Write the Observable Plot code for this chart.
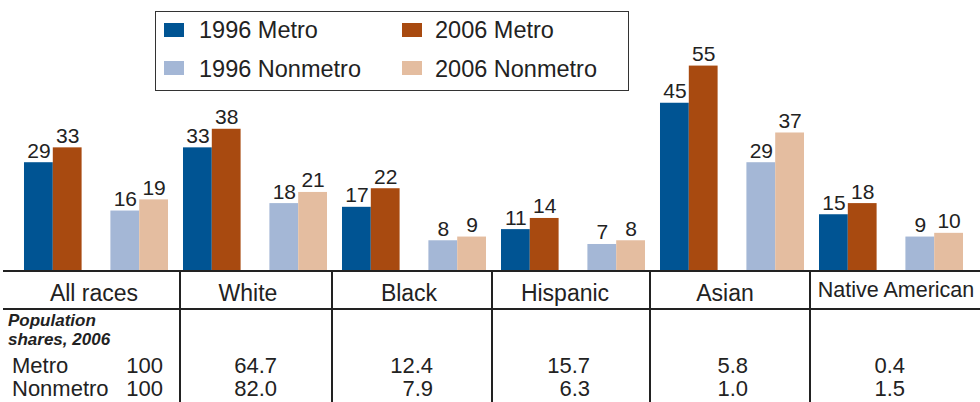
<!DOCTYPE html>
<html><head><meta charset="utf-8">
<script src="https://cdn.jsdelivr.net/npm/d3@7"></script>
<script src="https://cdn.jsdelivr.net/npm/@observablehq/plot@0.6"></script>
<style>
body{margin:0;background:#fff;font-family:"Liberation Sans",Arial,Helvetica,sans-serif;color:#222}
#wrap{position:relative;width:980px;height:402px;overflow:hidden}
#chart svg{display:block}
.abs{position:absolute;white-space:nowrap;line-height:1}
.hl{position:absolute;background:#222;height:2px}
.vl{position:absolute;background:#222;width:2px}
#legend{position:absolute;left:155px;top:11px;width:472px;height:78px;border:1.5px solid #333;background:#fff}
.sw{position:absolute;width:20px;height:14px}
</style></head>
<body>
<div id="wrap"><div id="chart"></div><div id="legend"></div><div id="table"></div></div>
<script>
// ---- data ----
const races = ["All races", "White", "Black", "Hispanic", "Asian", "Native American"];
const seriesNames = ["1996 Metro", "2006 Metro", "1996 Nonmetro", "2006 Nonmetro"];
const metro1996 = [29, 33, 17, 11, 45, 15];
const metro2006 = [33, 38, 22, 14, 55, 18];
const nonmetro1996 = [16, 18, 8, 7, 29, 9];
const nonmetro2006 = [19, 21, 9, 8, 37, 10];
const sharesMetro2006 = [100, 64.7, 12.4, 15.7, 5.8, 0.4];
const sharesNonmetro2006 = [100, 82.0, 7.9, 6.3, 1.0, 1.5];
const seriesColors = ["#005493", "#a84a10", "#a4b7d6", "#e4bda0"];

const seriesValues = [metro1996, metro2006, nonmetro1996, nonmetro2006];
const data = [];
races.forEach((race, i) => seriesNames.forEach((s, j) => data.push({race, series: s, value: seriesValues[j][i]})));

const slotDomain = ["1996 Metro", "2006 Metro", "gap", "1996 Nonmetro", "2006 Nonmetro"];

const chart = Plot.plot({
  width: 980, height: 271,
  marginLeft: 9, marginRight: 2, marginTop: 47, marginBottom: 1,
  style: {fontFamily: '"Liberation Sans", Arial, sans-serif', background: "transparent"},
  fx: {domain: races, paddingInner: 0.0943, paddingOuter: 0.0943, round: false, axis: null, label: null},
  x: {domain: slotDomain, padding: 0, paddingInner: 0, paddingOuter: 0, round: false, axis: null, label: null},
  y: {domain: [0, 60], axis: null},
  color: {domain: seriesNames, range: seriesColors},
  marks: [
    Plot.barY(data, {fx: "race", x: "series", y: "value", fill: "series", inset: 0}),
    Plot.text(data, {fx: "race", x: "series", y: "value", text: d => String(d.value),
      lineAnchor: "bottom", dy: -5, fontSize: 21, fill: "#222"})
  ]
});
document.getElementById("chart").appendChild(chart);

// ---- legend ----
const legend = document.getElementById("legend");
const legPos = [[0,0],[1,0],[0,1],[1,1]];
seriesNames.forEach((s, j) => {
  const [c, r] = legPos[j];
  const sw = document.createElement("div");
  sw.className = "sw";
  sw.style.left = (8 + c * 238) + "px";
  sw.style.top = (11 + r * 38) + "px";
  sw.style.background = seriesColors[j];
  legend.appendChild(sw);
  const t = document.createElement("div");
  t.className = "abs";
  t.style.fontSize = "23.5px";
  t.style.left = (43 + c * 236) + "px";
  t.style.top = (27 + r * 39 - 19.9) + "px";
  t.textContent = s;
  legend.appendChild(t);
});

// ---- table ----
const table = document.getElementById("table");
function add(cls, styles, text) {
  const el = document.createElement("div");
  el.className = cls;
  Object.assign(el.style, styles);
  if (text !== undefined) el.textContent = text;
  table.appendChild(el);
  return el;
}
const colEdges = [3, 180, 332, 492, 650, 810, 980];
const headerCenters = [94, 248, 409, 565, 725, 896];
const valueRights = [163, 277, 433, 590, 748, 905];
add("hl", {left: "3px", top: "270px", width: "977px"});
add("hl", {left: "3px", top: "308px", width: "977px"});
colEdges.slice(1, 6).forEach(x => add("vl", {left: (x - 1) + "px", top: "271px", height: "131px"}));
races.forEach((r, i) => {
  const base = i === 5 ? 298 : 301;
  const fs = i === 5 ? 21.5 : 23;
  add("abs", {fontSize: fs + "px", left: headerCenters[i] + "px", top: (base - 0.8465 * fs) + "px", transform: "translateX(-50%)"}, r);
});
const pop = add("abs", {fontSize: "17px", lineHeight: "19.5px", fontWeight: "bold", fontStyle: "italic", left: "8px", top: (327 - 16.1) + "px"});
pop.innerHTML = "Population<br>shares, 2006";
add("abs", {fontSize: "22px", left: "12px", top: (374 - 18.6) + "px"}, "Metro");
add("abs", {fontSize: "22px", left: "12px", top: (397 - 18.6) + "px"}, "Nonmetro");
const fmt = (v, i) => i === 0 ? String(v) : v.toFixed(1);
[sharesMetro2006, sharesNonmetro2006].forEach((arr, k) => {
  arr.forEach((v, i) => {
    add("abs", {fontSize: "22px", right: (980 - valueRights[i]) + "px", top: ((k ? 397 : 374) - 18.6) + "px", textAlign: "right"}, fmt(v, i));
  });
});
</script>
</body></html>
